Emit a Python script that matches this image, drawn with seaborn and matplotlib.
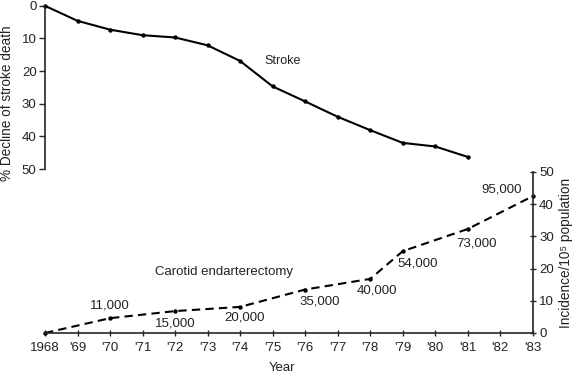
import pandas as pd
import seaborn as sns
import matplotlib.pyplot as plt

# -------------------------------
# Data
# -------------------------------
stroke_years = [1968, 1969, 1970, 1971, 1972, 1973, 1974, 1975, 1976, 1977, 1978, 1979, 1980, 1981]
stroke_decline = [0, 4.6, 7.3, 9.0, 9.7, 12.1, 16.9, 24.7, 29.3, 34.0, 38.1, 42.0, 43.1, 46.3]

cea_years = [1968, 1970, 1972, 1974, 1976, 1978, 1979, 1981, 1983]
cea_incidence = [0, 4.6, 6.8, 8.1, 13.5, 16.8, 25.4, 32.3, 42.5]
cea_counts = ["", "11,000", "15,000", "20,000", "35,000", "40,000", "54,000", "73,000", "95,000"]

year_ticks = list(range(1968, 1984))
year_labels = ["1968"] + ["'%02d" % (y % 100) for y in year_ticks[1:]]

# -------------------------------
# Style
# -------------------------------
sns.set_style("ticks")
plt.rcParams['font.family'] = ['Liberation Sans', 'DejaVu Sans']
plt.rcParams['font.size'] = 9
text_col = "#222222"

stroke_df = pd.DataFrame({"year": stroke_years, "decline": stroke_decline})
cea_df = pd.DataFrame({"year": cea_years, "incidence": cea_incidence})

fig = plt.figure(figsize=(5.76, 3.76), dpi=100)
ax_top = fig.add_axes([0.0781, 0.5505, 0.847, 0.434])
ax_bot = fig.add_axes([0.0781, 0.1144, 0.847, 0.4282])
for ax in (ax_top, ax_bot):
    ax.set_facecolor("none")

# -------------------------------
# Stroke (top, left axis, inverted)
# -------------------------------
sns.lineplot(data=stroke_df, x="year", y="decline", ax=ax_top, color="black",
             linewidth=1.5, marker="o", markersize=3.2, markeredgewidth=0, clip_on=False)
ax_top.set_xlim(1968, 1983)
ax_top.set_ylim(50, 0)
ax_top.set_yticks([0, 10, 20, 30, 40, 50])
ax_top.set_xticks([])
ax_top.set_xlabel("")
ax_top.set_ylabel("% Decline of stroke death", color=text_col, fontsize=9.8)
ax_top.yaxis.set_label_coords(-0.063, 0.404)
for s in ["top", "right", "bottom"]:
    ax_top.spines[s].set_visible(False)
ax_top.spines["left"].set_linewidth(1.2)
ax_top.tick_params(axis="y", direction="out", length=4, width=1, labelsize=9.5,
                   labelcolor=text_col, pad=2)
ax_top.text(1975.3, 16.9, "Stroke", fontsize=9, color=text_col, ha="center", va="center")

# -------------------------------
# Carotid endarterectomy (bottom, right axis)
# -------------------------------
sns.lineplot(data=cea_df, x="year", y="incidence", ax=ax_bot, color="black",
             linewidth=1.5, linestyle=(0, (4, 2.5)), marker="o", markersize=3.2,
             markeredgewidth=0, clip_on=False)
ax_bot.set_xlim(1968, 1983)
ax_bot.set_ylim(0, 50)
ax_bot.yaxis.tick_right()
ax_bot.yaxis.set_label_position("right")
ax_bot.set_yticks([0, 10, 20, 30, 40, 50])
ax_bot.set_xticks(year_ticks)
ax_bot.set_xticklabels(year_labels)
ax_bot.set_xlabel("Year", color=text_col, fontsize=9.5)
ax_bot.xaxis.set_label_coords(0.486, -0.18)
ax_bot.set_ylabel("Incidence/10\u2075 population", color=text_col, fontsize=9.8)
ax_bot.yaxis.set_label_coords(1.054, 0.5)
for s in ["top", "left"]:
    ax_bot.spines[s].set_visible(False)
ax_bot.spines["right"].set_linewidth(1.2)
ax_bot.spines["bottom"].set_linewidth(1.2)
ax_bot.tick_params(axis="both", direction="inout", length=5, width=1, labelsize=9.5,
                   labelcolor=text_col)
ax_bot.tick_params(axis="x", pad=4)
ax_bot.tick_params(axis="y", pad=2)

# count labels, offsets in pixels from each point
offsets = [(0, 0), (0, 13), (0, -12), (4, -11), (15, -12), (7, -12), (15, -12), (9, -15), (-31, 7)]
for yr, val, lab, off in zip(cea_years, cea_incidence, cea_counts, offsets):
    if lab:
        ax_bot.annotate(lab, (yr, val), xytext=off, textcoords="offset pixels",
                        ha="center", va="center", fontsize=9.5, color=text_col)
ax_bot.text(1973.5, 19.0, "Carotid endarterectomy", fontsize=9.5, color=text_col,
            ha="center", va="center")

plt.savefig("out.png", dpi=100)
plt.close()
